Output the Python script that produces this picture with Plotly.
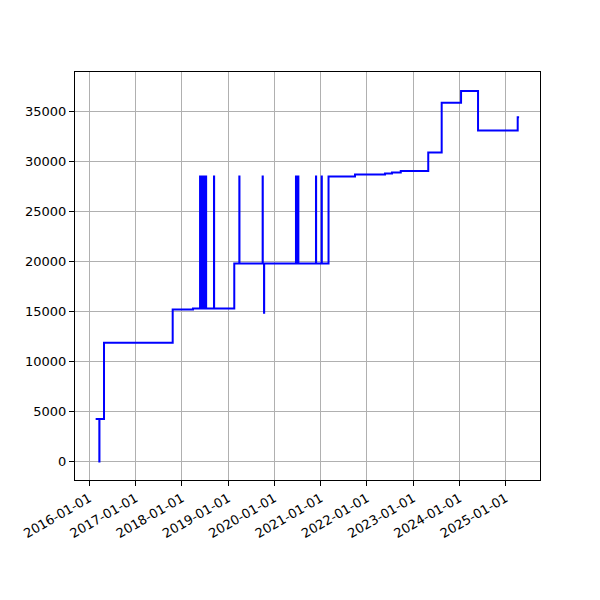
import plotly.graph_objects as go

# Step-series data (value holds until next date)
dates = [
    "2016-02-21", "2016-03-21", "2016-03-22", "2016-04-27",
    "2017-10-21", "2018-03-30",
    # dense spikes mid 2018
    "2018-05-25", "2018-05-26", "2018-05-29", "2018-05-30", "2018-06-02", "2018-06-03",
    "2018-06-06", "2018-06-07", "2018-06-10", "2018-06-11", "2018-06-14", "2018-06-15",
    "2018-06-18", "2018-06-19", "2018-06-22", "2018-06-23", "2018-06-26", "2018-06-27",
    "2018-06-30", "2018-07-01", "2018-07-04", "2018-07-05", "2018-07-08", "2018-07-09",
    "2018-07-11", "2018-07-12",
    "2018-09-12", "2018-09-13",
    "2019-02-19",
    "2019-03-31", "2019-04-01",
    "2019-10-01", "2019-10-02", "2019-10-12", "2019-10-13",
    "2020-06-20", "2020-06-21", "2020-06-28", "2020-06-29", "2020-07-08", "2020-07-09",
    "2020-11-25", "2020-11-26",
    "2021-01-09", "2021-01-10",
    "2021-03-04", "2021-09-29",
    "2022-05-24", "2022-07-18", "2022-09-25",
    "2023-04-30", "2023-08-14", "2024-01-14", "2024-05-27",
    "2025-04-05", "2025-04-16",
]
values = [
    4250, 0, 4250, 11870,
    15200, 15300,
    28500, 15300, 28500, 15300, 28500, 15300,
    28500, 15300, 28500, 15300, 28500, 15300,
    28500, 15300, 28500, 15300, 28500, 15300,
    28500, 15300, 28500, 15300, 28500, 15300,
    28500, 15300,
    28500, 15300,
    19800,
    28500, 19800,
    28500, 19800, 14870, 19800,
    28500, 19800, 28500, 19800, 28500, 19800,
    28500, 19800,
    28500, 19800,
    28500, 28700,
    28800, 28900, 29050,
    30900, 35870, 37050, 33100,
    34430, 34430,
]

x_tickvals = ["2016-01-01", "2017-01-01", "2018-01-01", "2019-01-01", "2020-01-01",
              "2021-01-01", "2022-01-01", "2023-01-01", "2024-01-01", "2025-01-01"]
y_tickvals = [0, 5000, 10000, 15000, 20000, 25000, 30000, 35000]

fig = go.Figure()
fig.add_trace(go.Scatter(
    x=dates, y=values, mode="lines",
    line=dict(color="blue", width=2, shape="hv"),
    showlegend=False,
))

axis_common = dict(
    showgrid=True, gridcolor="#b0b0b0", gridwidth=1,
    showline=True, linecolor="black", linewidth=1, mirror=True,
    ticks="outside", ticklen=5, tickcolor="black",
    tickfont=dict(family="DejaVu Sans", size=13, color="black"),
    zeroline=False,
)

fig.update_layout(
    width=600, height=600,
    paper_bgcolor="white", plot_bgcolor="white",
    margin=dict(l=67, r=68, t=64, b=128),
    xaxis=dict(
        **axis_common,
        type="date",
        range=["2015-09-11", "2025-09-28"],
        tickvals=x_tickvals, ticktext=x_tickvals,
        tickangle=-30,
    ),
    yaxis=dict(
        **axis_common,
        range=[-1855, 38955],
        tickvals=y_tickvals, ticktext=[str(v) for v in y_tickvals],
    ),
)

fig.write_html("out.html")
